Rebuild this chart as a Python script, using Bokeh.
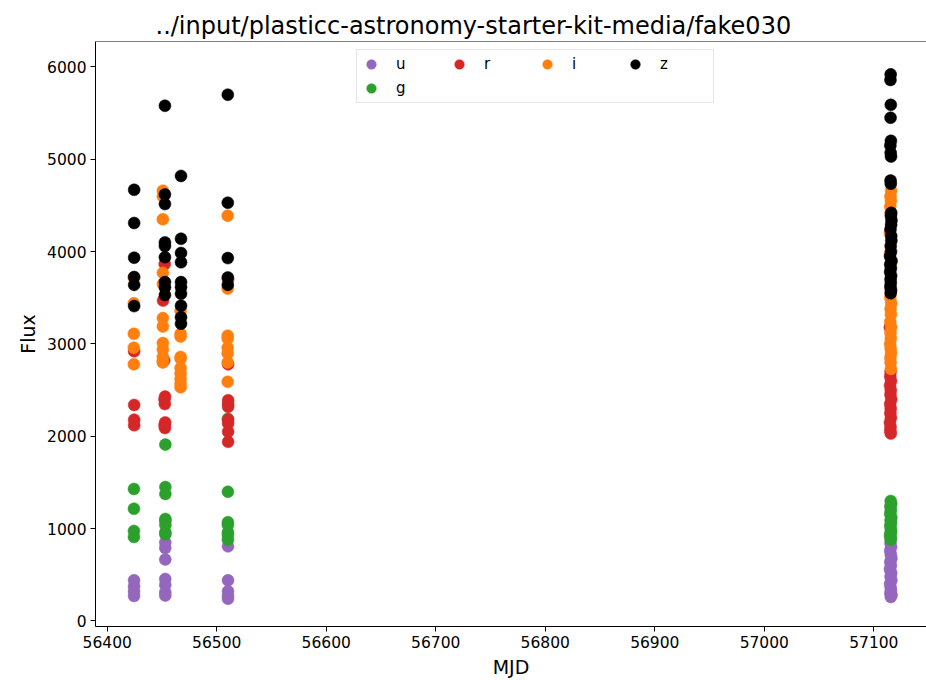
from bokeh.plotting import figure
from bokeh.models import ColumnDataSource, Range1d, FixedTicker, Legend, LegendItem, Span
from bokeh.embed import file_html
from bokeh.resources import INLINE

TITLE = "../input/plasticc-astronomy-starter-kit-media/fake030"
BANDS = ["u", "g", "r", "i", "z"]
COLORS = {"u": "#9467bd", "g": "#2ca02c", "r": "#d62728", "i": "#ff7f0e", "z": "#000000"}

# --- passband u ---
u_mjd = [56424.5] * 4 + [56453.0] * 7 + [56510.3] * 5 + [
    57115.2, 57115.8, 57114.9, 57115.5, 57116.1, 57115.0, 57115.6, 57114.7, 57115.9,
    57115.3, 57116.0, 57114.8, 57115.4, 57115.7, 57115.1, 57116.2, 57115.5]
u_flux = [440, 375, 320, 270,
          850, 790, 665, 455, 390, 312, 275,
          808, 440, 322, 272, 240,
          845, 800, 760, 720, 680, 640, 600, 560, 520, 480, 440, 400, 360, 330, 300, 280, 260]

# --- passband g ---
g_mjd = [56424.4] * 4 + [56453.1] * 8 + [56510.2] * 7 + [
    57115.4, 57115.9, 57115.1, 57115.6, 57114.9, 57116.0, 57115.3, 57115.7,
    57115.0, 57115.5, 57115.8, 57115.2, 57114.8, 57115.6, 57115.4]
g_flux = [1430, 1215, 975, 910,
          1910, 1450, 1375, 1105, 1085, 1040, 960, 940,
          2190, 1400, 1070, 1040, 960, 930, 880,
          1300, 1270, 1240, 1200, 1160, 1120, 1090, 1060, 1030, 1000, 970, 950, 920, 900, 880]

# --- passband r ---
r_mjd = [56424.6] * 4 + [56452.5, 56451.0, 56452.0, 56452.8, 56452.3, 56452.6, 56452.9, 56452.4, 56452.7] + [56510.4] * 9 + [
    57114.6, 57115.3, 57115.0, 57115.7, 57114.8, 57115.5, 57115.2, 57115.9, 57114.9,
    57115.4, 57115.1, 57115.6, 57114.7, 57115.3, 57115.0, 57115.5]
r_flux = [2920, 2340, 2180, 2120,
          3865, 3470, 2820, 2430, 2400, 2350, 2150, 2120, 2090,
          3700, 2780, 2390, 2350, 2320, 2180, 2140, 2050, 1940,
          3180, 2700, 2650, 2600, 2550, 2500, 2450, 2400, 2350, 2300, 2250, 2200, 2150, 2100, 2060, 2030]

# --- passband i ---
i_mjd = [56424.3] * 5 + [56450.8] * 12 + [56467.0] * 10 + [56510.0] * 8 + [
    57115.8, 57115.2, 57115.6, 57115.0, 57115.4, 57114.7, 57114.9, 57115.5, 57115.7,
    57115.1, 57115.9, 57115.3, 57115.6, 57115.0, 57115.8, 57115.2, 57115.5, 57114.9,
    57115.4, 57115.7, 57115.1, 57115.3, 57115.6]
i_flux = [3720, 3440, 3110, 2960, 2780,
          4660, 4600, 4350, 3770, 3650, 3280, 3190, 3010, 2940, 2860, 2820, 2800,
          3360, 3110, 3080, 2860, 2840, 2740, 2680, 2620, 2570, 2530,
          4390, 3600, 3090, 3060, 2960, 2900, 2800, 2590,
          4660, 4600, 4550, 4490, 4420, 4200, 3980, 3870, 3600, 3500, 3440, 3380, 3320,
          3240, 3180, 3120, 3060, 3000, 2950, 2900, 2850, 2800, 2730]

# --- passband z ---
z_mjd = [56424.6] * 6 + [56452.7] * 9 + [56467.4] * 10 + [56510.1] * 5 + [
    57115.4, 57115.2, 57115.5, 57115.3, 57115.6, 57115.1, 57115.4, 57115.7, 57115.3,
    57115.5, 57115.9, 57115.6, 57116.1, 57115.8, 57115.2, 57115.9, 57116.0, 57115.4,
    57115.7, 57114.8, 57116.2, 57115.0, 57115.6, 57114.9, 57115.8, 57115.3, 57115.5,
    57115.1, 57115.7, 57115.4]
z_flux = [4670, 4310, 3935, 3725, 3640, 3410,
          5580, 4620, 4515, 4100, 4060, 3940, 3670, 3615, 3530,
          4820, 4140, 3985, 3885, 3670, 3615, 3545, 3415, 3290, 3220,
          5700, 4530, 3930, 3720, 3640,
          5920, 5860, 5590, 5450, 5200, 5150, 5070, 5030, 4770, 4735, 4420, 4390, 4340,
          4290, 4240, 4170, 4120, 4060, 4000, 3950, 3900, 3860, 3820, 3780, 3740, 3700,
          3660, 3620, 3580, 3550]

X_TICKS = [56400, 56500, 56600, 56700, 56800, 56900, 57000, 57100]
Y_TICKS = [0, 1000, 2000, 3000, 4000, 5000, 6000]

DATA = {"u": (u_mjd, u_flux), "g": (g_mjd, g_flux), "r": (r_mjd, r_flux),
        "i": (i_mjd, i_flux), "z": (z_mjd, z_flux)}

FONT = "DejaVu Sans"

p = figure(width=926, height=680, output_backend="svg", toolbar_location=None,
           x_range=Range1d(56389.3, 57148.1), y_range=Range1d(-60, 6276),
           min_border_left=95, min_border_right=0, min_border_top=41, min_border_bottom=53)
p.title.text = TITLE
p.title.text_font = FONT
p.title.text_font_size = "24px"
p.title.text_font_style = "normal"
p.title.text_color = "black"
p.title.align = "left"
p.title.offset = 60
p.title.standoff = 4
p.grid.visible = False
p.outline_line_color = None
p.background_fill_color = "white"
p.border_fill_color = "white"

for ax, ticks, lab in ((p.xaxis[0], X_TICKS, "MJD"), (p.yaxis[0], Y_TICKS, "Flux")):
    ax.ticker = FixedTicker(ticks=ticks)
    ax.minor_tick_line_color = None
    ax.major_tick_in = 0
    ax.major_tick_out = 5
    ax.major_label_text_font = FONT
    ax.major_label_text_font_size = "15.5px"
    ax.major_label_text_color = "black"
    ax.major_label_standoff = 4
    ax.axis_label = lab
    ax.axis_label_text_font = FONT
    ax.axis_label_text_font_size = "19px"
    ax.axis_label_text_font_style = "normal"
    ax.axis_label_text_color = "black"
    ax.axis_label_standoff = 5
    ax.axis_line_color = "black"
    ax.major_tick_line_color = "black"

p.add_layout(Span(location=p.y_range.end, dimension="width", line_color="black", line_width=1))

renderers = {}
for b in BANDS:
    mjd, flux = DATA[b]
    src = ColumnDataSource(dict(x=mjd, y=flux))
    renderers[b] = p.scatter("x", "y", source=src, size=12, marker="circle",
                             fill_color=COLORS[b], line_color=COLORS[b], line_width=0.5)

legend = Legend(items=[LegendItem(label=b, renderers=[renderers[b]]) for b in ["u", "r", "i", "z", "g"]],
                location=(261, 523), orientation="horizontal", ncols=4,
                glyph_width=24, glyph_height=24, label_standoff=13, label_width=51,
                spacing=0, padding=2, margin=0,
                label_text_font=FONT, label_text_font_size="15px", label_text_color="black",
                border_line_color="#cccccc", border_line_width=1,
                background_fill_color="white", background_fill_alpha=0.8)
p.add_layout(legend, "center")

open("out.html", "w").write(file_html(p, INLINE))
